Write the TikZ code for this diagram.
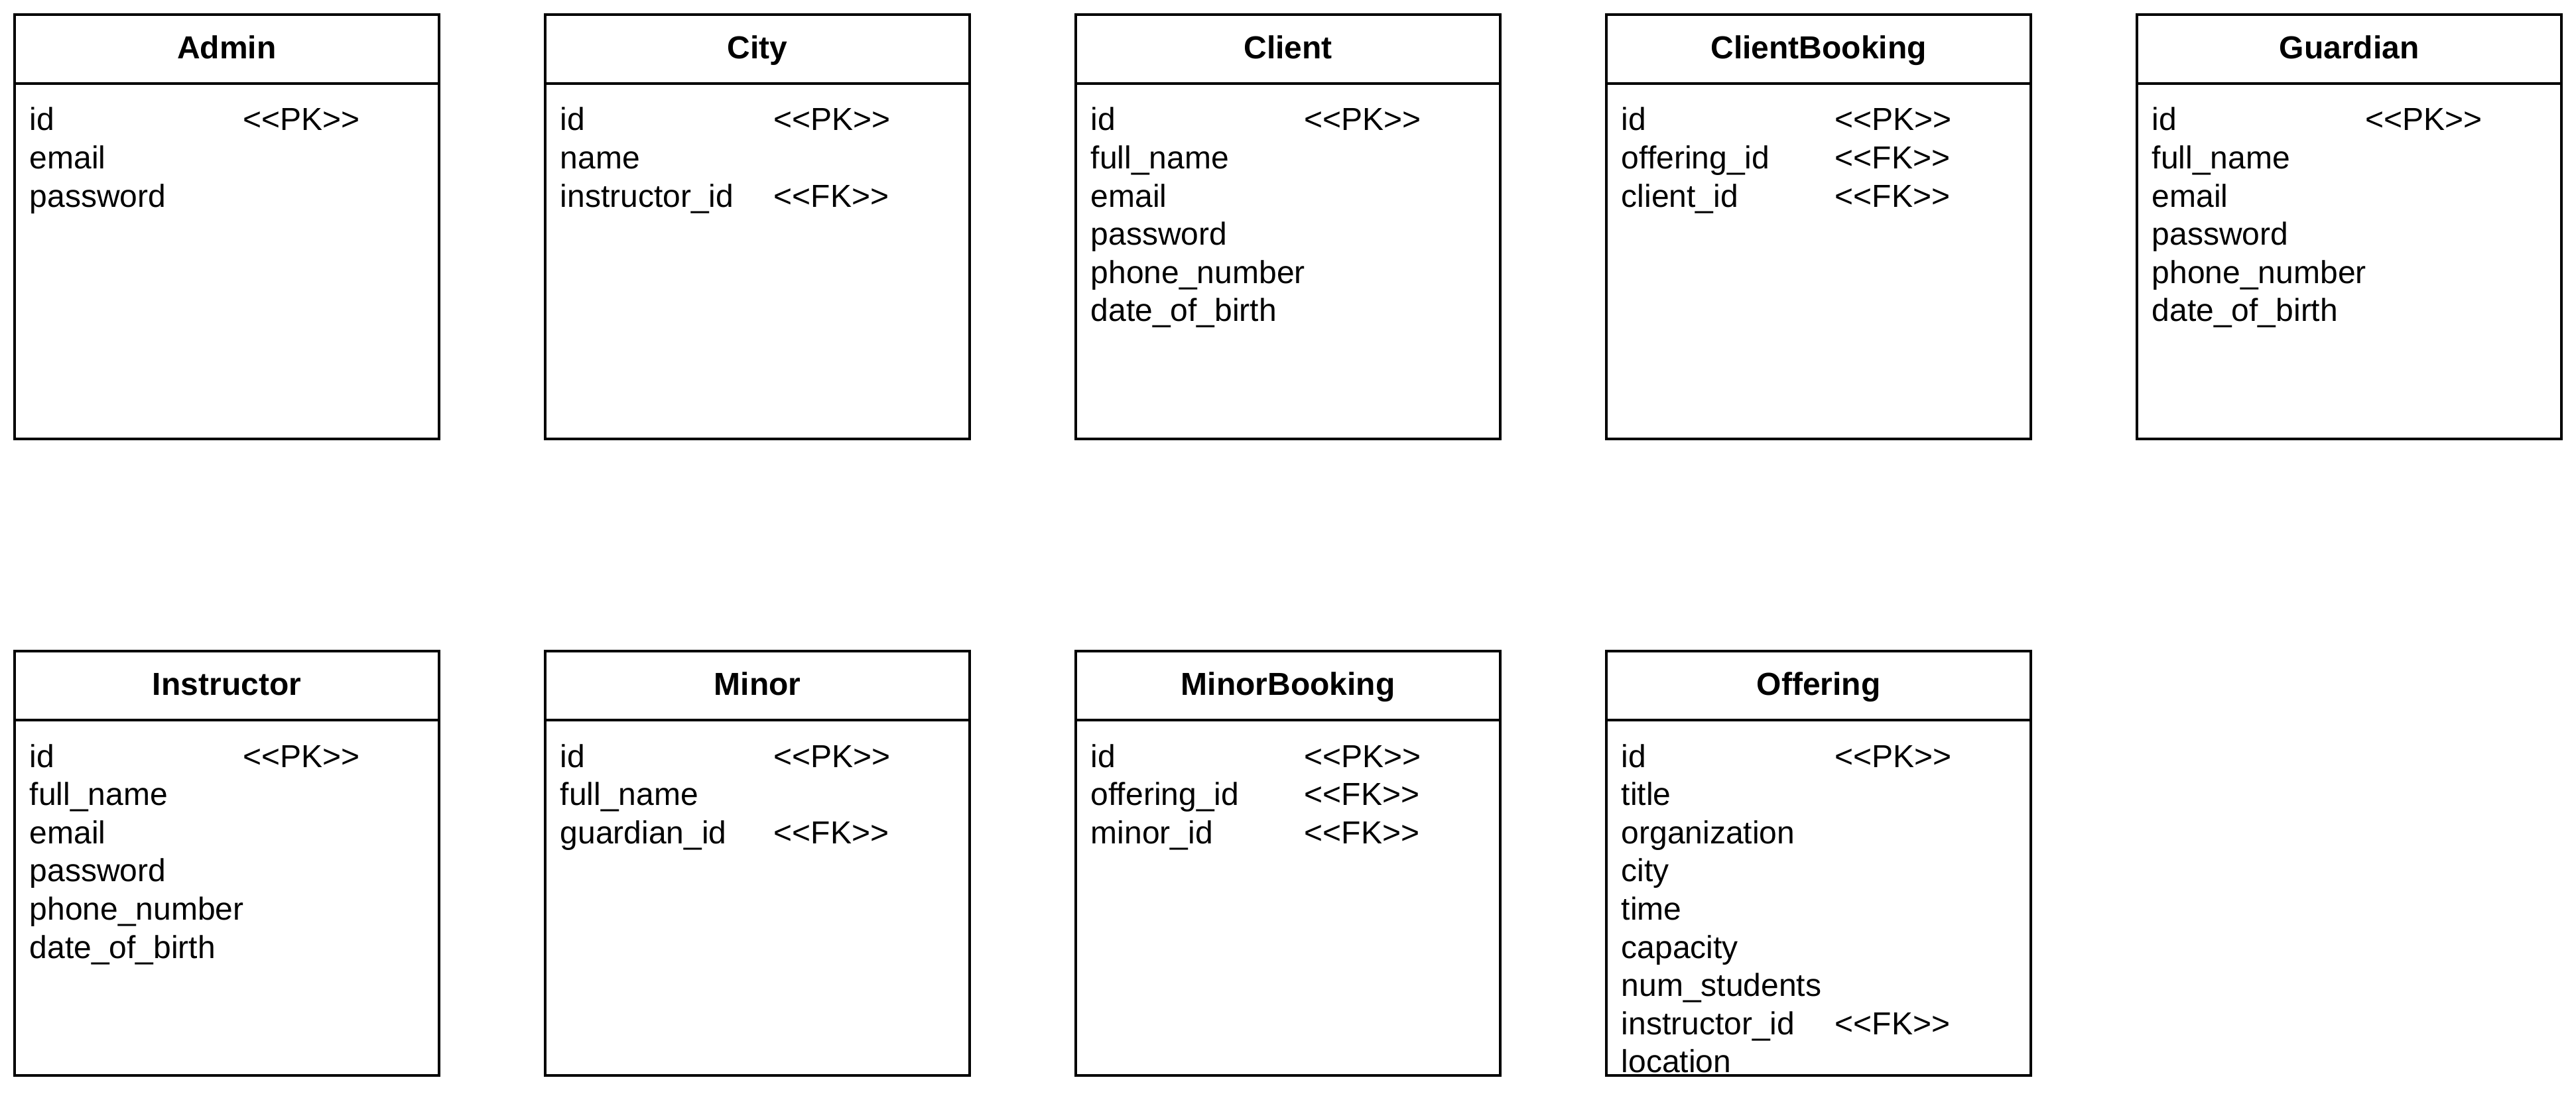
\documentclass[tikz,border=0pt]{standalone}
\usepackage{fontspec}
\setmainfont{Liberation Sans}
\newcommand{\PKtag}{<\kern0pt<PK>\kern0pt>}
\newcommand{\FKtag}{<\kern0pt<FK>\kern0pt>}
\tikzset{
  ebox/.style={draw, line width=1pt, minimum width=160pt, minimum height=160pt, inner sep=0pt, outer sep=0pt},
  etitle/.style={anchor=base, inner sep=0pt, font=\fontsize{12}{14.4}\selectfont\bfseries},
  efield/.style={anchor=base west, inner sep=0pt, font=\fontsize{12}{14.4}\selectfont},
  hline/.style={line width=1pt}
}
% #1 name, #2 x, #3 y, #4 title
\newcommand{\erbox}[4]{%
  \node[ebox] (#1) at (#2+80,#3+80) {};
  \coordinate (#1-hl) at (#2,#3+26);
  \coordinate (#1-hr) at (#2+160,#3+26);
  \draw[hline] (#1-hl) -- (#1-hr);
  \node[etitle] (#1-title) at (#2+80,#3+16.7) {#4};
}
% #1 name, #2 x, #3 y, #4 index, #5 field, #6 key
\newcommand{\errow}[6]{%
  \node[efield] (#1-f#4) at (#2+5.5,#3+26+17.75+14.4*#4) {#5};
  \node[efield] (#1-k#4) at (#2+86,#3+26+17.75+14.4*#4) {#6};
}
\begin{document}
\begin{tikzpicture}[x={(1pt,0pt)}, y={(0pt,-1pt)}]
\useasboundingbox (0,0) rectangle (971,414);
\fill[white] (0,0) rectangle (971,414);
% Row 1
\erbox{admin}{5.5}{5.5}{Admin}
\errow{admin}{5.5}{5.5}{0}{id}{\PKtag}
\errow{admin}{5.5}{5.5}{1}{email}{}
\errow{admin}{5.5}{5.5}{2}{password}{}

\erbox{city}{205.5}{5.5}{City}
\errow{city}{205.5}{5.5}{0}{id}{\PKtag}
\errow{city}{205.5}{5.5}{1}{name}{}
\errow{city}{205.5}{5.5}{2}{instructor\_id}{\FKtag}

\erbox{client}{405.5}{5.5}{Client}
\errow{client}{405.5}{5.5}{0}{id}{\PKtag}
\errow{client}{405.5}{5.5}{1}{full\_name}{}
\errow{client}{405.5}{5.5}{2}{email}{}
\errow{client}{405.5}{5.5}{3}{password}{}
\errow{client}{405.5}{5.5}{4}{phone\_number}{}
\errow{client}{405.5}{5.5}{5}{date\_of\_birth}{}

\erbox{cbook}{605.5}{5.5}{ClientBooking}
\errow{cbook}{605.5}{5.5}{0}{id}{\PKtag}
\errow{cbook}{605.5}{5.5}{1}{offering\_id}{\FKtag}
\errow{cbook}{605.5}{5.5}{2}{client\_id}{\FKtag}

\erbox{guardian}{805.5}{5.5}{Guardian}
\errow{guardian}{805.5}{5.5}{0}{id}{\PKtag}
\errow{guardian}{805.5}{5.5}{1}{full\_name}{}
\errow{guardian}{805.5}{5.5}{2}{email}{}
\errow{guardian}{805.5}{5.5}{3}{password}{}
\errow{guardian}{805.5}{5.5}{4}{phone\_number}{}
\errow{guardian}{805.5}{5.5}{5}{date\_of\_birth}{}

% Row 2
\erbox{instr}{5.5}{245.5}{Instructor}
\errow{instr}{5.5}{245.5}{0}{id}{\PKtag}
\errow{instr}{5.5}{245.5}{1}{full\_name}{}
\errow{instr}{5.5}{245.5}{2}{email}{}
\errow{instr}{5.5}{245.5}{3}{password}{}
\errow{instr}{5.5}{245.5}{4}{phone\_number}{}
\errow{instr}{5.5}{245.5}{5}{date\_of\_birth}{}

\erbox{minor}{205.5}{245.5}{Minor}
\errow{minor}{205.5}{245.5}{0}{id}{\PKtag}
\errow{minor}{205.5}{245.5}{1}{full\_name}{}
\errow{minor}{205.5}{245.5}{2}{guardian\_id}{\FKtag}

\erbox{mbook}{405.5}{245.5}{MinorBooking}
\errow{mbook}{405.5}{245.5}{0}{id}{\PKtag}
\errow{mbook}{405.5}{245.5}{1}{offering\_id}{\FKtag}
\errow{mbook}{405.5}{245.5}{2}{minor\_id}{\FKtag}

\erbox{offer}{605.5}{245.5}{Offering}
\errow{offer}{605.5}{245.5}{0}{id}{\PKtag}
\errow{offer}{605.5}{245.5}{1}{title}{}
\errow{offer}{605.5}{245.5}{2}{organization}{}
\errow{offer}{605.5}{245.5}{3}{city}{}
\errow{offer}{605.5}{245.5}{4}{time}{}
\errow{offer}{605.5}{245.5}{5}{capacity}{}
\errow{offer}{605.5}{245.5}{6}{num\_students}{}
\errow{offer}{605.5}{245.5}{7}{instructor\_id}{\FKtag}
\errow{offer}{605.5}{245.5}{8}{location}{}
\end{tikzpicture}
\end{document}
